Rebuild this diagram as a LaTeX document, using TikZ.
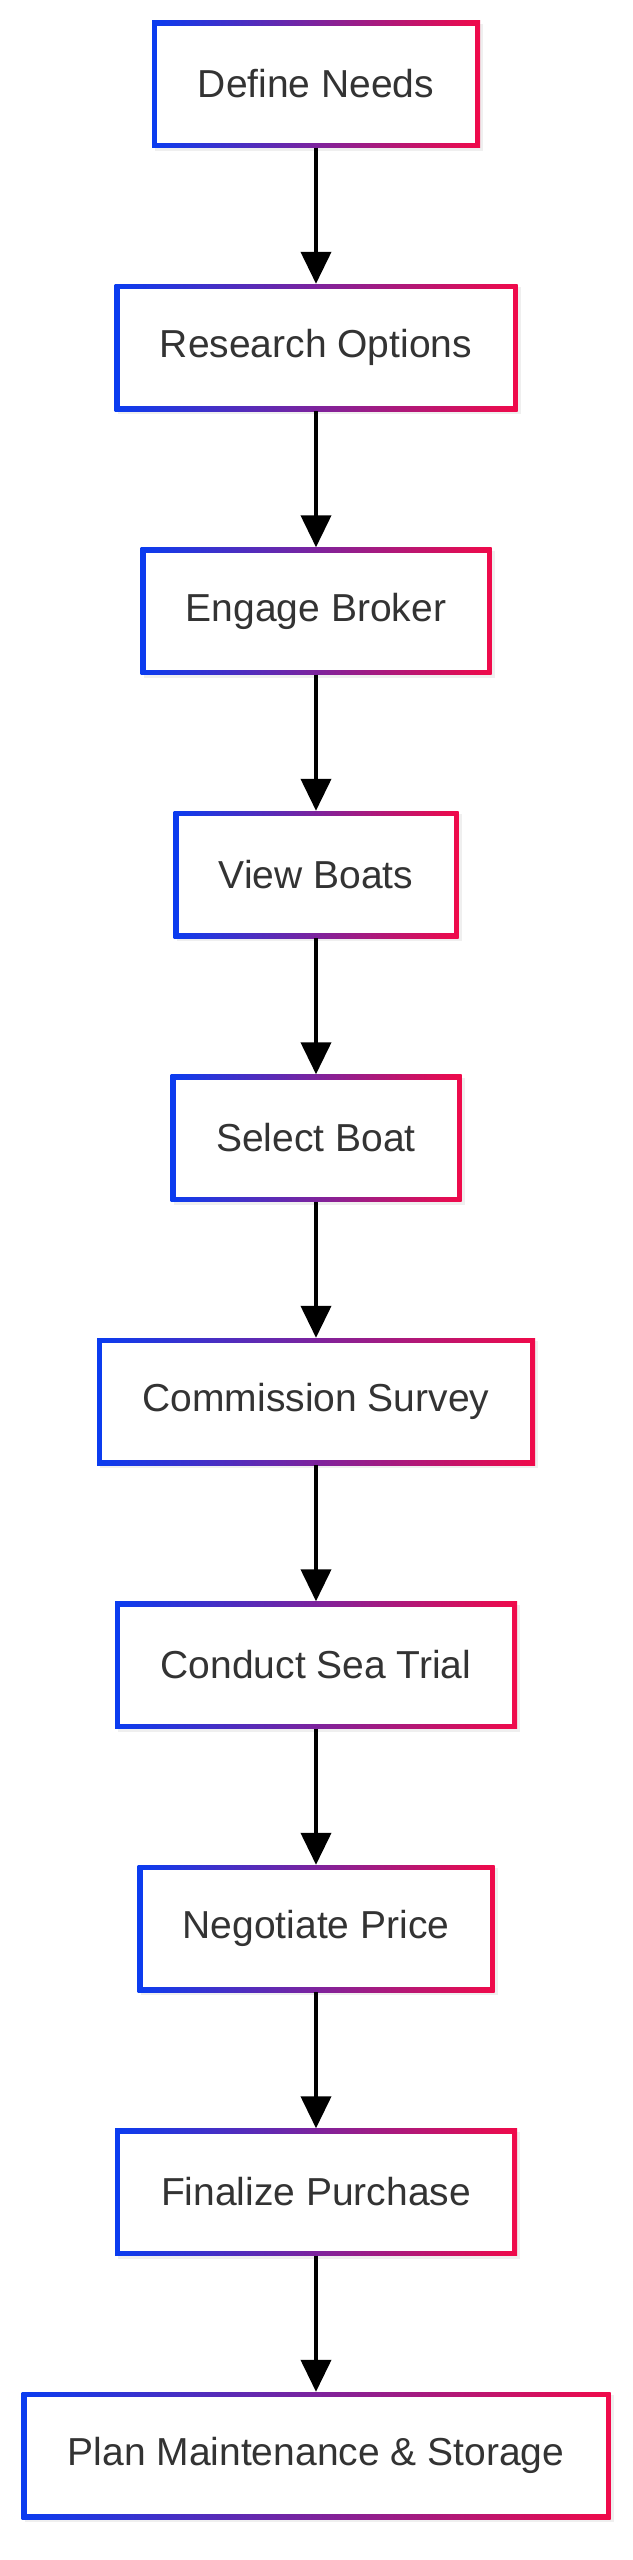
\documentclass[tikz,border=0pt]{standalone}
\usepackage{fontspec}
\setmainfont{Liberation Sans}
\usetikzlibrary{arrows.meta,shadows}
\definecolor{bcol}{HTML}{0A3CF0}
\definecolor{rcol}{HTML}{F00A4A}
\definecolor{tcol}{HTML}{333333}
\tikzset{
  box/.style={rectangle, inner sep=0pt, minimum height=127pt, left color=bcol, right color=rcol,
    drop shadow={opacity=0.12, shadow xshift=3pt, shadow yshift=-3pt},
    text=tcol, font=\fontsize{39}{45}\selectfont,
    path picture={\fill[white] ([shift={(5pt,-5pt)}]path picture bounding box.north west) rectangle ([shift={(-5pt,5pt)}]path picture bounding box.south east);}},
  conn/.style={line width=4pt, -{Triangle[length=32pt,width=30pt]}}
}
\begin{document}
\begin{tikzpicture}[x=1pt,y=-1pt]
\useasboundingbox[fill=white] (0,0) rectangle (632,2560);
\node[box, minimum width=328pt] (n1) at (316,84) {Define Needs};
\node[box, minimum width=403pt] (n2) at (316,347.5) {Research Options};
\node[box, minimum width=351pt] (n3) at (316,611) {Engage Broker};
\node[box, minimum width=285pt] (n4) at (316,874.5) {View Boats};
\node[box, minimum width=291pt] (n5) at (316,1138) {Select Boat};
\node[box, minimum width=438pt] (n6) at (316,1401.5) {Commission Survey};
\node[box, minimum width=402pt] (n7) at (316,1665) {Conduct Sea Trial};
\node[box, minimum width=357pt] (n8) at (316,1928.5) {Negotiate Price};
\node[box, minimum width=402pt] (n9) at (316,2192) {Finalize Purchase};
\node[box, minimum width=589pt] (n10) at (316,2455.5) {Plan Maintenance \& Storage};
\foreach \a/\b in {n1/n2,n2/n3,n3/n4,n4/n5,n5/n6,n6/n7,n7/n8,n8/n9,n9/n10}
  \draw[conn] (\a.south) -- (\b.north);
\end{tikzpicture}
\end{document}
